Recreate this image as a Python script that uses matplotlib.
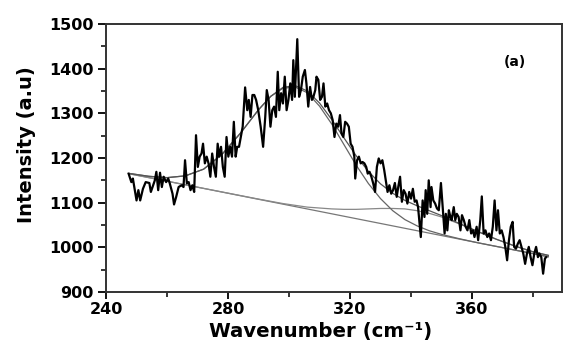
import matplotlib
matplotlib.use("Agg")
import matplotlib.pyplot as plt

wavenumber = [
    247.4, 248.3, 248.8, 250.0, 250.6, 251.2, 252.1, 253.0, 254.2, 254.7,
    256.0, 256.5, 257.1, 257.7, 258.3, 258.9, 259.7, 260.4, 260.9, 261.8,
    262.3, 263.0, 263.8, 264.8, 265.4, 265.9, 266.5, 267.1, 267.7, 268.3,
    268.9, 269.5, 270.1, 270.7, 271.3, 271.8, 272.4, 273.0, 273.6, 274.2,
    274.8, 275.4, 276.0, 276.6, 277.1, 277.7, 278.3, 278.9, 279.5, 280.1,
    280.7, 281.3, 281.9, 282.5, 283.0, 283.6, 284.2, 284.8, 285.6, 286.3,
    286.8, 287.4, 288.0, 288.6, 289.2, 289.9, 290.7, 291.5, 292.2, 292.7,
    293.3, 293.9, 294.5, 295.1, 295.7, 296.3, 296.8, 297.4, 298.0, 298.6,
    299.2, 299.8, 300.4, 301.0, 301.4, 301.9, 302.7, 303.3, 303.9, 304.5,
    305.2, 305.7, 306.3, 306.9, 307.5, 308.0, 308.6, 309.0, 309.6, 310.2,
    310.8, 311.3, 311.9, 312.5, 313.1, 313.7, 314.3, 314.9, 315.5, 316.1,
    316.7, 317.2, 317.8, 318.4, 319.0, 319.6, 320.2, 320.8, 321.4, 321.7,
    322.3, 322.9, 323.5, 324.1, 324.7, 325.3, 325.8, 326.4, 327.0, 327.6,
    328.2, 328.8, 329.4, 330.0, 330.6, 331.2, 331.7, 332.3, 332.9, 333.5,
    334.1, 334.7, 335.3, 335.8, 336.4, 337.0, 337.6, 338.2, 338.8, 339.4,
    340.0, 340.6, 341.2, 341.8, 342.3, 343.2, 343.8, 344.4, 344.8, 345.3,
    345.8, 346.4, 346.7, 347.3, 347.9, 348.5, 349.1, 349.8, 350.4, 351.0,
    351.4, 351.9, 352.4, 352.9, 353.3, 354.0, 354.5, 355.0, 355.6, 356.2,
    356.7, 357.3, 357.9, 358.5, 359.1, 359.7, 360.3, 360.8, 361.5, 362.0,
    362.7, 363.2, 363.8, 364.4, 365.0, 365.6, 366.2, 366.8, 367.4, 368.0,
    368.5, 369.1, 369.7, 370.3, 370.9, 371.5, 372.1, 372.7, 373.3, 373.8,
    374.4, 375.0, 375.6, 376.2, 376.8, 377.4, 378.0, 378.6, 379.2, 379.8,
    380.4, 381.0, 381.6, 382.1, 382.7, 383.3, 383.9, 384.3,
]
intensity = [
    1165, 1146, 1154, 1105, 1128, 1105, 1131, 1146, 1144, 1124,
    1150, 1169, 1128, 1167, 1135, 1158, 1146, 1154, 1143, 1120,
    1096, 1113, 1135, 1139, 1135, 1195, 1143, 1146, 1128, 1139,
    1124, 1251, 1180, 1203, 1210, 1232, 1188, 1203, 1188, 1158,
    1210, 1180, 1158, 1232, 1203, 1225, 1180, 1158, 1247, 1203,
    1225, 1203, 1281, 1203, 1225, 1225, 1247, 1270, 1358, 1307,
    1330, 1292, 1341, 1341, 1330, 1307, 1270, 1225, 1292, 1352,
    1330, 1270, 1307, 1315, 1292, 1393, 1307, 1345, 1322, 1382,
    1307, 1330, 1367, 1330, 1419, 1337, 1466, 1337, 1352, 1382,
    1397, 1367, 1315, 1359, 1330, 1337, 1352, 1382, 1375, 1330,
    1337, 1367, 1315, 1322, 1307, 1300, 1285, 1247, 1277, 1270,
    1296, 1255, 1247, 1281, 1277, 1270, 1232, 1225, 1203, 1154,
    1195, 1203, 1188, 1191, 1188, 1180, 1165, 1169, 1158, 1143,
    1124, 1180, 1199, 1188, 1195, 1173, 1150, 1124, 1139, 1120,
    1128, 1144, 1113, 1135, 1158, 1102, 1128, 1120, 1098, 1124,
    1109, 1131, 1102, 1105, 1090, 1023, 1105, 1068, 1128, 1075,
    1150, 1090, 1135, 1105, 1098, 1087, 1083, 1144, 1087, 1031,
    1075, 1038, 1083, 1068, 1061, 1090, 1061, 1075, 1068, 1038,
    1072, 1061, 1046, 1038, 1061, 1031, 1038, 1023, 1046, 1016,
    1061, 1114, 1031, 1038, 1023, 1031, 1016, 1046, 1105, 1038,
    1083, 1031, 1038, 1023, 1001, 971, 1016, 1046, 1057, 1001,
    997, 1008, 1016, 1001, 986, 963, 986, 1001, 978, 960,
    986, 1001, 978, 986, 978, 941, 975, 978,
]

# fitted curves
fit_x = [248, 254, 260, 266, 272, 278, 284, 290, 294, 298, 302, 306, 310, 314,
         318, 322, 326, 330, 334, 338, 342, 346, 350, 356, 362, 368, 374, 380, 385]
fit_total = [1165, 1159, 1156, 1160, 1175, 1208, 1255, 1308, 1338, 1358, 1362, 1350,
             1323, 1286, 1245, 1205, 1170, 1142, 1121, 1105, 1093, 1082, 1071, 1053,
             1035, 1018, 1003, 990, 982]
fit_peak1 = [1165, 1159, 1156, 1160, 1175, 1208, 1255, 1308, 1338, 1356, 1359, 1346,
             1316, 1276, 1230, 1184, 1143, 1109, 1082, 1062, 1048, 1037, 1029, 1019,
             1010, 1002, 994, 986, 979]
fit_peak2 = [1164, 1156, 1148, 1140, 1132, 1124, 1116, 1108, 1103, 1098, 1094, 1090,
             1088, 1086, 1085, 1085, 1086, 1087, 1087, 1086, 1082, 1076, 1068, 1052,
             1035, 1018, 1003, 990, 982]
base_x = [247.5, 385]
base_y = [1165, 979]

plt.rcParams["font.family"] = ["DejaVu Sans"]
plt.rcParams["font.weight"] = "bold"

fig = plt.figure(figsize=(5.64, 3.41), dpi=100)
ax = fig.add_axes([0.188, 0.1437, 0.8085, 0.786])

ax.plot(base_x, base_y, color="#777777", lw=0.9)
ax.plot(fit_x, fit_peak2, color="#888888", lw=0.9)
ax.plot(fit_x, fit_peak1, color="#666666", lw=0.9)
ax.plot(fit_x, fit_total, color="#555555", lw=0.9)
ax.plot(wavenumber, intensity, color="black", lw=1.6)

ax.set_xlim(240, 389.5)
ax.set_ylim(900, 1500)
ax.set_xticks([240, 280, 320, 360])
ax.set_xticks([260, 300, 340, 380], minor=True)
ax.set_yticks(range(900, 1501, 100))
ax.set_yticks(range(950, 1500, 100), minor=True)
ax.tick_params(which="major", length=5, width=1.3, labelsize=11.5, pad=2)
ax.tick_params(axis="y", which="major", length=6, pad=3)
ax.tick_params(which="minor", length=3.5, width=1.1)
for lab in ax.get_xticklabels() + ax.get_yticklabels():
    lab.set_fontweight("bold")
for s in ax.spines.values():
    s.set_linewidth(1.4)
    s.set_color("#333333")

ax.set_xlabel("Wavenumber (cm\u207b\u00b9)", fontsize=14.2, fontweight="bold", va="bottom")
ax.xaxis.set_label_coords(0.471, -0.1815)
ax.set_ylabel("Intensity (a.u)", fontsize=14, fontweight="bold")
ax.yaxis.set_label_coords(-0.153, 0.55)

ax.text(374, 1415, "(a)", fontsize=10, fontweight="bold", ha="center", va="center")

fig.savefig("out.png", dpi=100)
